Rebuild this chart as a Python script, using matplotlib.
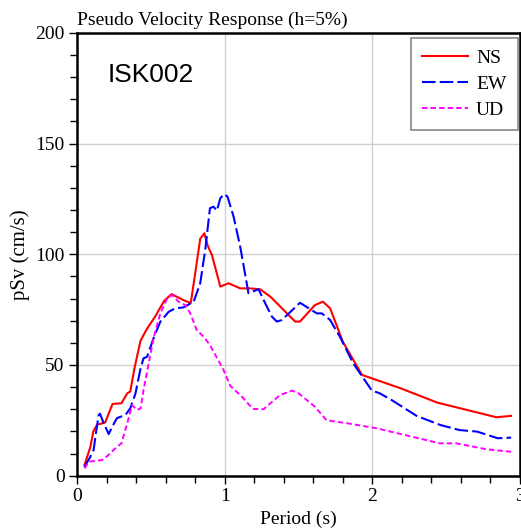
import numpy as np
import matplotlib.pyplot as plt
from matplotlib.ticker import MultipleLocator

# Periodo (s) e pSv (cm/s)
ns_t = [0.05, 0.09, 0.11, 0.135, 0.19, 0.24, 0.30, 0.34, 0.36, 0.39, 0.43, 0.47,
        0.53, 0.59, 0.64, 0.73, 0.77, 0.80, 0.834, 0.862, 0.884, 0.913, 0.97,
        1.026, 1.105, 1.17, 1.24, 1.31, 1.477, 1.51, 1.61, 1.665, 1.714, 1.80,
        1.93, 2.19, 2.44, 2.84, 2.94]
ns_v = [4.8, 13, 20, 23, 24, 32.4, 32.7, 37.2, 38, 49, 61, 66,
        72, 79, 82, 79, 78, 91.4, 107, 109.5, 104, 99.7, 85.4,
        86.9, 84.6, 84.6, 84.2, 80.8, 69.6, 69.6, 77, 78.6, 75.6, 60.5,
        45.5, 39.5, 33, 26.4, 27]

ew_t = [0.05, 0.09, 0.112, 0.124, 0.146, 0.155, 0.18, 0.214, 0.237, 0.27, 0.327,
        0.36, 0.395, 0.43, 0.45, 0.474, 0.52, 0.564, 0.62, 0.665, 0.72, 0.79,
        0.834, 0.868, 0.90, 0.924, 0.947, 0.97, 0.997, 1.019, 1.06, 1.105,
        1.161, 1.229, 1.274, 1.32, 1.353, 1.387, 1.51, 1.624, 1.658, 1.714,
        1.78, 1.87, 1.996, 2.05, 2.13, 2.30, 2.46, 2.59, 2.71, 2.85, 2.94]
ew_v = [4, 8.6, 11.6, 17.6, 27.4, 28, 23.7, 18.8, 22, 26, 27.4,
        30.4, 37, 48.5, 53, 53.7, 62.5, 69.6, 74, 75.6, 76, 78.6,
        86.9, 102, 120.8, 121.5, 119.7, 125.3, 127.2, 126, 117, 103.4,
        82.4, 84.2, 77.9, 71.8, 69.6, 70.3, 78.1, 73.3, 73.3, 70.3,
        62.8, 50.8, 38.5, 37.2, 34.2, 27, 22.9, 20.6, 19.9, 16.9, 17.2]

ud_t = [0.05, 0.08, 0.17, 0.20, 0.26, 0.30, 0.34, 0.372, 0.406, 0.43, 0.45,
        0.485, 0.52, 0.564, 0.61, 0.643, 0.687, 0.733, 0.767, 0.81, 0.857,
        0.90, 0.99, 1.037, 1.116, 1.19, 1.262, 1.375, 1.455, 1.5, 1.61, 1.69,
        1.827, 2.03, 2.458, 2.57, 2.774, 2.94]
ud_v = [3.3, 6.3, 7.1, 8.6, 12.4, 14.6, 23.7, 31.9, 29.7, 30.4, 38.7,
        50.8, 62.8, 73.3, 80.1, 81.6, 78.6, 77, 73.3, 65.8, 62.8,
        59, 48, 40.6, 35.7, 30.2, 30, 36.4, 38.4, 37.2, 31.2, 25,
        23.7, 21.4, 14.6, 14.6, 11.9, 10.8]

serif = 'Liberation Serif'

fig = plt.figure(figsize=(5.21, 5.30), dpi=100)
ax = fig.add_axes([0.148, 0.1025, 0.850, 0.8355])

ax.plot(ns_t, ns_v, color='#ff0000', lw=1.5, label='NS')
ax.plot(ew_t, ew_v, color='#0000ff', lw=1.5, dashes=(6.5, 2), label='EW')
ax.plot(ud_t, ud_v, color='#ff00ff', lw=1.4, dashes=(2.8, 1.6), label='UD')

ax.set_xlim(0, 3)
ax.set_ylim(0, 200)
ax.xaxis.set_major_locator(MultipleLocator(1))
ax.xaxis.set_minor_locator(MultipleLocator(0.2))
ax.yaxis.set_major_locator(MultipleLocator(50))
ax.yaxis.set_minor_locator(MultipleLocator(10))
ax.grid(True, which='major', color='#d0d0d0', lw=1)
ax.set_axisbelow(True)
ax.tick_params(which='both', direction='out', top=False, right=False)
ax.tick_params(which='major', length=6, width=1, labelsize=14, pad=3)
ax.tick_params(which='minor', length=5, width=1)
for lab in ax.get_xticklabels() + ax.get_yticklabels():
    lab.set_fontfamily(serif)
for sp in ax.spines.values():
    sp.set_linewidth(1.8)

ax.set_xlabel('Period (s)', fontfamily=serif, fontsize=14, labelpad=4)
ax.set_ylabel('pSv (cm/s)', fontfamily=serif, fontsize=15, labelpad=4)
ax.set_title('Pseudo Velocity Response (h=5%)', fontfamily=serif, fontsize=14,
             loc='left', pad=6)

ax.text(0.068, 0.905, 'ISK002', transform=ax.transAxes, fontfamily='Liberation Sans',
        fontsize=19, va='center', ha='left')

leg = ax.legend(loc='upper right', bbox_to_anchor=(0.9955, 0.9885),
                prop={'family': serif, 'size': 14},
                fancybox=False, edgecolor='#888888', framealpha=1,
                borderaxespad=0, borderpad=0.6, handlelength=2.35,
                handletextpad=0.4, labelspacing=0.42)
leg.get_frame().set_linewidth(1.2)

fig.savefig('out.png', dpi=100)
